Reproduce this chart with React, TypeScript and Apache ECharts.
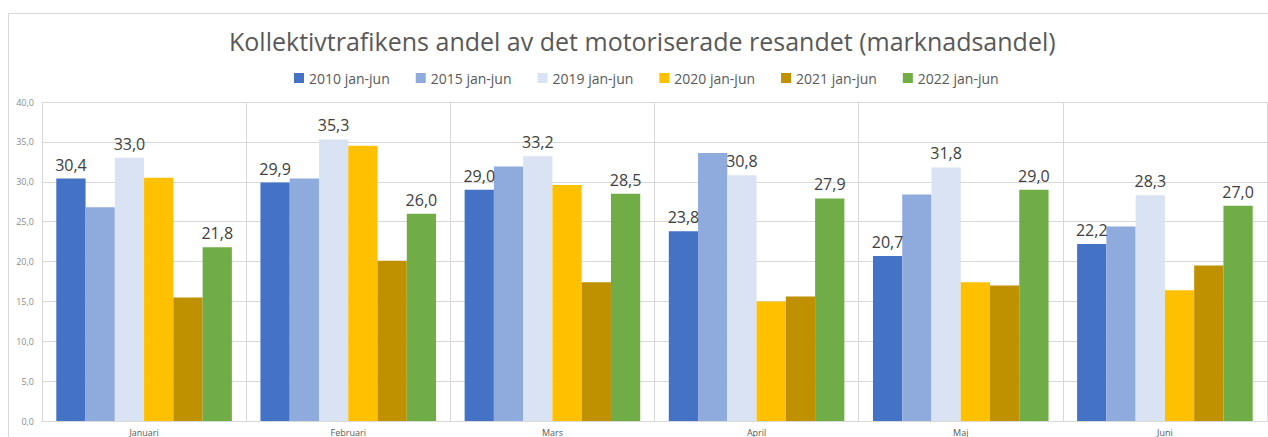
import React, { useEffect, useRef } from "react";
import * as echarts from "echarts";

const months = ["Januari", "Februari", "Mars", "April", "Maj", "Juni"];
const seriesNames = ["2010 jan-jun", "2015 jan-jun", "2019 jan-jun", "2020 jan-jun", "2021 jan-jun", "2022 jan-jun"];
const v2010 = [30.4, 29.9, 29.0, 23.8, 20.7, 22.2];
const v2015 = [26.8, 30.4, 31.9, 33.6, 28.4, 24.4];
const v2019 = [33.0, 35.3, 33.2, 30.8, 31.8, 28.3];
const v2020 = [30.5, 34.5, 29.6, 15.0, 17.4, 16.4];
const v2021 = [15.5, 20.1, 17.4, 15.6, 17.0, 19.5];
const v2022 = [21.8, 26.0, 28.5, 27.9, 29.0, 27.0];
const colors = ["#4472c4", "#8faadc", "#dae3f3", "#ffc000", "#bf9000", "#70ad47"];
const labelled = [true, false, true, false, false, true];

const fmt = (n: number) => n.toFixed(1).replace(".", ",");

export default function App() {
  const ref = useRef<HTMLDivElement>(null);
  useEffect(() => {
    if (!ref.current) return;
    const chart = echarts.init(ref.current, null, { renderer: "svg" });
    const values = [v2010, v2015, v2019, v2020, v2021, v2022];
    chart.setOption({
      animation: false,
      backgroundColor: "#ffffff",
      textStyle: { fontFamily: "Open Sans" },
      title: {
        text: "Kollektivtrafikens andel av det motoriserade resandet (marknadsandel)",
        left: 224,
        top: 23,
        textStyle: { fontSize: 25, fontWeight: "normal", color: "#595959", fontFamily: "Open Sans" },
      },
      legend: {
        top: 66,
        left: 289,
        itemWidth: 10,
        itemHeight: 10,
        itemGap: 26,
        icon: "rect",
        textStyle: { fontSize: 14, color: "#595959", fontFamily: "Open Sans" },
        data: seriesNames,
      },
      graphic: [
        {
          type: "rect",
          shape: { x: 8.5, y: 13.5, width: 1300, height: 500 },
          style: { fill: "none", stroke: "#d9d9d9", lineWidth: 1 },
          silent: true,
        },
      ],
      grid: { left: 42, right: 1, top: 102, bottom: 16, containLabel: false },
      xAxis: {
        type: "category",
        data: months,
        axisLine: { show: true, lineStyle: { color: "#d9d9d9" } },
        axisTick: { show: false },
        splitLine: { show: true, interval: 0, lineStyle: { color: "#d9d9d9" } },
        axisLabel: { fontSize: 9, lineHeight: 10, color: "#595959", margin: 6, fontFamily: "Open Sans" },
      },
      yAxis: {
        type: "value",
        min: 0,
        max: 40,
        interval: 5,
        axisLine: { show: false },
        axisTick: { show: false },
        splitLine: { lineStyle: { color: "#d9d9d9" } },
        axisLabel: { fontSize: 9, color: "#8c8c8c", margin: 8, formatter: (v: number) => fmt(v), fontFamily: "Open Sans" },
      },
      series: seriesNames.map((name, i) => ({
        name,
        type: "bar",
        data: values[i],
        barGap: "0%",
        barCategoryGap: "14%",
        itemStyle: { color: colors[i] },
        label: {
          show: labelled[i],
          position: "top",
          distance: 6,
          fontSize: 16,
          color: "#404040",
          fontFamily: "Open Sans",
          formatter: (p: any) => fmt(p.value),
        },
      })),
    });
    return () => chart.dispose();
  }, []);
  return <div ref={ref} style={{ position: "fixed", left: 0, top: 0, width: 1268, height: 437 }} />;
}
